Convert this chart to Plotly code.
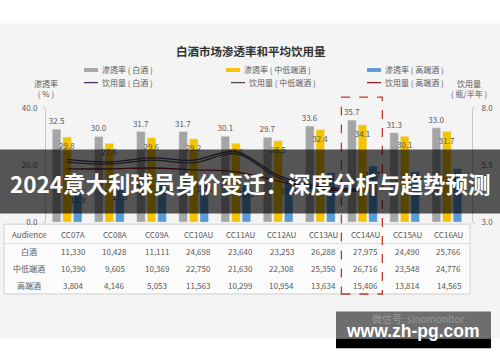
import plotly.graph_objects as go

# ---------------- data ----------------
categories = ["CC07A", "CC08A", "CC09A", "CC10AU", "CC11AU",
              "CC12AU", "CC13AU", "CC14AU", "CC15AU", "CC16AU"]
pen_baijiu = [32.5, 30.0, 31.7, 31.7, 30.1, 29.7, 33.6, 35.7, 31.3, 33.0]
pen_midlow = [29.8, 27.6, 29.6, 29.2, 27.6, 28.5, 32.4, 34.1, 30.1, 31.7]
pen_high = [10.9, 11.9, 14.4, 14.8, 13.1, 14.0, 17.4, 19.7, 17.7, 18.7]
vol_baijiu = [5.75, 5.63, 5.81, 5.71, 6.09, 5.05, 4.55, 4.45, None, None]
vol_midlow = [5.63, 5.54, 5.71, 5.60, 6.00, 4.95, 4.45, 4.40, None, None]
vol_high = [5.33, 5.33, 5.37, 5.29, 5.20, 4.80, 4.45, 4.35, None, None]
aud_baijiu = ["11,330", "10,428", "11,111", "24,698", "23,640",
              "23,253", "26,288", "27,975", "24,490", "25,766"]
aud_midlow = ["10,390", "9,605", "10,369", "22,750", "21,630",
              "22,308", "25,350", "26,716", "23,548", "24,776"]
aud_high = ["3,804", "4,146", "5,053", "11,563", "10,299",
            "10,954", "13,634", "15,406", "13,814", "14,565"]
row_labels = ["白酒", "中低端酒", "高端酒"]
left_ticks = [0, 20, 40]
right_ticks = [3.0, 5.5, 8.0]
highlight = "CC14AU"

# ---------------- helpers ----------------
W, H = 500, 362
FONT = "Noto Sans CJK SC"
TXT = "#595959"


def px(x):
    return x / W


def py(y):
    return 1 - y / H


def note(text, x, y, size=8, color=TXT, xanchor="center", family=FONT):
    return dict(text=text, x=px(x), y=py(y), xref="paper", yref="paper",
                xanchor=xanchor, yanchor="middle", showarrow=False,
                font=dict(size=size, color=color, family=family))


GRAY, YELLOW, BLUE = "#a5a5a5", "#f5c400", "#5b9bd5"
L_PURPLE, L_DARK, L_RED = "#4a3366", "#4d4d4d", "#8e1f2a"

fig = go.Figure()

bar_text = dict(size=8, color=TXT, family=FONT)
fig.add_bar(x=categories, y=pen_baijiu, marker_color=GRAY, name="渗透率（白酒）",
            texttemplate="%{y:.1f}", textposition="outside", textangle=0,
            textfont=bar_text, cliponaxis=False, showlegend=False)
fig.add_bar(x=categories, y=pen_midlow, marker_color=YELLOW, name="渗透率（中低端酒）",
            texttemplate="%{y:.1f}", textposition="inside", insidetextanchor="end",
            textangle=0, insidetextfont=bar_text, textfont=bar_text, showlegend=False)
fig.add_bar(x=categories, y=pen_high, marker_color=BLUE, name="渗透率（高端酒）",
            texttemplate="%{y:.1f}", textposition="inside", insidetextanchor="end",
            textangle=0, insidetextfont=bar_text, textfont=bar_text, showlegend=False)

for vals, col, nm in [(vol_baijiu, L_PURPLE, "饮用量（白酒）"),
                      (vol_midlow, L_DARK, "饮用量（中低端酒）"),
                      (vol_high, L_RED, "饮用量（高端酒）")]:
    fig.add_scatter(x=categories, y=vals, yaxis="y2", mode="lines", name=nm,
                    line=dict(color=col, width=1.3, shape="spline"),
                    connectgaps=False, showlegend=False)

shapes = []
ann = []

# background panel
shapes.append(dict(type="rect", xref="paper", yref="paper", x0=0, x1=1,
                   y0=py(343), y1=py(18), fillcolor="#f4f4f4",
                   line=dict(width=0), layer="below"))
# table box
shapes.append(dict(type="rect", xref="paper", yref="paper", x0=px(4), x1=px(470),
                   y0=py(297), y1=py(225), fillcolor="#fbfbfb",
                   line=dict(color="#d0d0d0", width=1), layer="below"))
shapes.append(dict(type="line", xref="paper", yref="paper", x0=px(4), x1=px(470),
                   y0=py(245), y1=py(245), line=dict(color="#dcdcdc", width=1),
                   layer="below"))

# highlight dashed box
hi = categories.index(highlight)
shapes.append(dict(type="rect", xref="x", yref="paper", x0=hi - 0.5, x1=hi + 0.47,
                   y0=py(297), y1=py(94), line=dict(color="#c0392b", width=1.3, dash="dash"),
                   fillcolor="rgba(0,0,0,0)", layer="above"))

# title
ann.append(note("<b>白酒市场渗透率和平均饮用量</b>", 251, 46.5, size=11.5, color="#333333"))

# legend (manual)
legend_bars = [(84, GRAY, "渗透率 ( 白酒 )"), (226, YELLOW, "渗透率 ( 中低端酒 )"),
               (367, BLUE, "渗透率 ( 高端酒 )")]
for x0, col, lab in legend_bars:
    shapes.append(dict(type="rect", xref="paper", yref="paper", x0=px(x0), x1=px(x0 + 14),
                       y0=py(68), y1=py(64), fillcolor=col, line=dict(width=0)))
    ann.append(note(lab, x0 + 16, 66, xanchor="left"))
legend_lines = [(84, L_PURPLE, "饮用量 ( 白酒 )"), (231, L_DARK, "饮用量 ( 中低端酒 )"),
                (367, L_RED, "饮用量 ( 高端酒 )")]
for x0, col, lab in legend_lines:
    shapes.append(dict(type="line", xref="paper", yref="paper", x0=px(x0), x1=px(x0 + 14),
                       y0=py(79), y1=py(79), line=dict(color=col, width=1.3)))
    ann.append(note(lab, x0 + 16, 79, xanchor="left"))

# axis titles
ann.append(note("渗透率<br>( % )", 46, 85))
ann.append(note("饮用量<br>( 瓶/半年 )", 469, 85))

# table
row_y = [236, 253, 271, 288]
ann.append(note("Audience", 29, row_y[0]))
for r, lab in enumerate(row_labels):
    ann.append(note(lab, 29, row_y[r + 1]))
for i, cat in enumerate(categories):
    cx = 73 + 41.75 * i
    for r, val in enumerate([cat, aud_baijiu[i], aud_midlow[i], aud_high[i]]):
        ann.append(note(val, cx, row_y[r]))

# overlay banner
shapes.append(dict(type="rect", xref="paper", yref="paper", x0=0, x1=1,
                   y0=py(214), y1=py(148), fillcolor="rgba(0,0,0,0.65)",
                   line=dict(width=0), layer="above"))
ann.append(note("<b>2024意大利球员身价变迁：深度分析与趋势预测</b>", 250, 183,
                size=22.5, color="white"))

# watermark
shapes.append(dict(type="rect", xref="paper", yref="paper", x0=px(336), x1=px(491),
                   y0=py(343), y1=py(315), fillcolor="rgba(0,0,0,0.55)",
                   line=dict(width=0), layer="above"))
shapes.append(dict(type="rect", xref="paper", yref="paper", x0=px(336), x1=px(491),
                   y0=py(353), y1=py(343), fillcolor="black",
                   line=dict(width=0), layer="above"))
ann.append(note("微信号: sinomonitor", 418, 322, size=10, color="rgba(255,255,255,0.3)"))
ann.append(note("<b>www.zh-pg.com</b>", 413, 335, size=17.5, color="white",
                family="Liberation Sans"))

fig.update_layout(
    width=W, height=H, margin=dict(l=0, r=0, t=0, b=0),
    paper_bgcolor="white", plot_bgcolor="rgba(0,0,0,0)",
    barmode="group", bargap=0.25, bargroupgap=0.18,
    uniformtext=dict(mode="show", minsize=8),
    font=dict(family=FONT, color=TXT),
    showlegend=False,
    xaxis=dict(domain=[px(46), px(468)], range=[-0.5, 9.5], showticklabels=False,
               showline=False, showgrid=False, zeroline=False, ticks=""),
    yaxis=dict(domain=[py(223), py(105)], range=[0, 40], tickvals=left_ticks,
               ticktext=[f"{v:.1f}" for v in left_ticks], anchor="free", position=px(45),
               showline=True, linecolor="#c8c8c8", linewidth=1, ticks="outside",
               ticklen=2, tickcolor="#c8c8c8", showgrid=False, zeroline=False,
               tickfont=dict(size=8, color=TXT, family=FONT), ticklabelstandoff=4),
    yaxis2=dict(domain=[py(223), py(105)], range=[3, 8], overlaying="y", side="right",
                tickvals=right_ticks, ticktext=[f"{v:.1f}" for v in right_ticks],
                anchor="free", position=px(472),
                showline=True, linecolor="#c8c8c8", linewidth=1, ticks="outside",
                ticklen=2, tickcolor="#c8c8c8", showgrid=False, zeroline=False,
                tickfont=dict(size=8, color=TXT, family=FONT), ticklabelstandoff=5),
    shapes=shapes, annotations=ann,
)

fig.write_html("out.html", config={"displayModeBar": False},
               post_script="document.body.style.margin='0';")
